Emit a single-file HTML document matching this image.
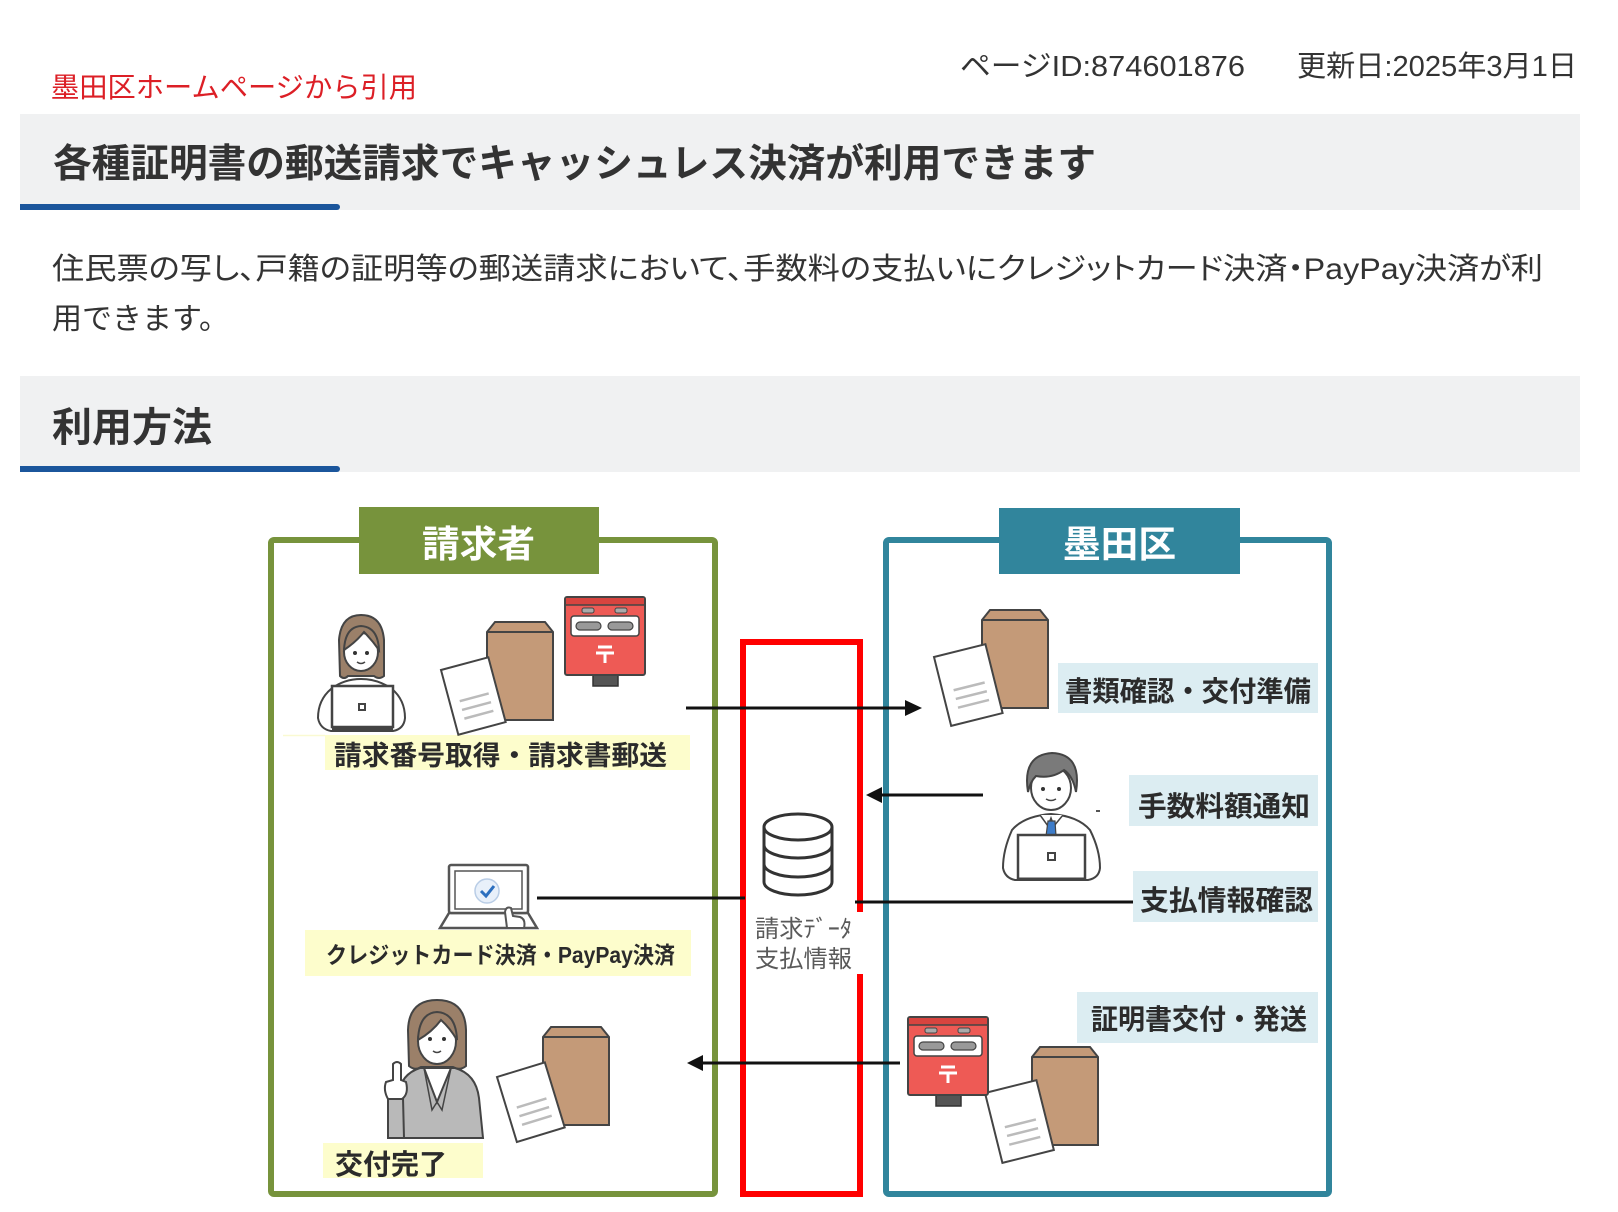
<!DOCTYPE html>
<html><head><meta charset="utf-8">
<style>
html,body{margin:0;padding:0;background:#fff;}
body{width:1618px;height:1212px;overflow:hidden;position:relative;}
svg{position:absolute;left:0;top:0;}
text{font-family:"Liberation Sans","Noto Sans CJK JP",sans-serif;}
.palt{font-feature-settings:"palt";}
</style></head>
<body>
<svg width="1618" height="1212" viewBox="0 0 1618 1212" xmlns="http://www.w3.org/2000/svg">
<!-- header texts -->
<text x="51" y="97" font-size="28" fill="#dc1f26" textLength="366" lengthAdjust="spacingAndGlyphs">墨田区ホームページから引用</text>
<text x="960" y="76" font-size="29" fill="#333" textLength="285" lengthAdjust="spacingAndGlyphs">ページID:874601876</text>
<text x="1297" y="76" font-size="29" fill="#333" textLength="280" lengthAdjust="spacingAndGlyphs">更新日:2025年3月1日</text>

<rect x="20" y="114" width="1560" height="96" fill="#f0f1f2"/>
<rect x="20" y="204" width="320" height="6" rx="3" fill="#1b569c"/>
<rect x="20" y="204" width="10" height="6" fill="#1b569c"/>
<text x="53" y="177" font-size="39" font-weight="bold" fill="#333" textLength="1043" lengthAdjust="spacingAndGlyphs">各種証明書の郵送請求でキャッシュレス決済が利用できます</text>

<text class="palt" x="52" y="279" font-size="30" fill="#333" textLength="1491" lengthAdjust="spacingAndGlyphs">住民票の写し、戸籍の証明等の郵送請求において、手数料の支払いにクレジットカード決済・PayPay決済が利</text>
<text x="52" y="329" font-size="30" fill="#333">用できます。</text>

<rect x="20" y="376" width="1560" height="96" fill="#f0f1f2"/>
<rect x="20" y="466" width="320" height="6" rx="3" fill="#1b569c"/>
<rect x="20" y="466" width="10" height="6" fill="#1b569c"/>
<text x="52" y="441" font-size="40" font-weight="bold" fill="#333" textLength="160" lengthAdjust="spacingAndGlyphs">利用方法</text>

<!-- frames -->
<rect x="271" y="540" width="444" height="654" rx="3" fill="none" stroke="#77933c" stroke-width="6"/>
<rect x="886" y="540" width="443" height="654" rx="3" fill="none" stroke="#31859c" stroke-width="6"/>
<rect x="743" y="642" width="117" height="552" fill="none" stroke="#ff0000" stroke-width="6"/>
<rect x="853" y="912" width="11" height="62" fill="#fff"/>

<rect x="359" y="507" width="240" height="67" fill="#77933c"/>
<text x="422" y="557" font-size="37" font-weight="bold" fill="#fff" textLength="113" lengthAdjust="spacingAndGlyphs">請求者</text>
<rect x="999" y="508" width="241" height="66" fill="#31859c"/>
<text x="1063" y="557" font-size="37" font-weight="bold" fill="#fff" textLength="113" lengthAdjust="spacingAndGlyphs">墨田区</text>

<!-- label backgrounds -->
<line x1="283" y1="735.5" x2="325" y2="735.5" stroke="#fafad2" stroke-width="1.5"/>
<rect x="325" y="735" width="365" height="35" fill="#fdfdcc"/>
<rect x="305" y="930" width="386" height="46" fill="#fdfdcc"/>
<rect x="323" y="1143" width="160" height="35" fill="#fdfdcc"/>
<rect x="1058" y="663" width="260" height="50" fill="#dcedf2"/>
<rect x="1129" y="775" width="189" height="51" fill="#dcedf2"/>
<rect x="1133" y="871" width="185" height="51" fill="#dcedf2"/>
<rect x="1077" y="992" width="241" height="51" fill="#dcedf2"/>

<!-- label texts -->
<g font-weight="bold" fill="#2b2b2b">
<text x="334" y="765" font-size="27" textLength="333" lengthAdjust="spacingAndGlyphs">請求番号取得・請求書郵送</text>
<text x="326" y="963" font-size="23" textLength="349" lengthAdjust="spacingAndGlyphs">クレジットカード決済・PayPay決済</text>
<text x="335" y="1174" font-size="28" textLength="112" lengthAdjust="spacingAndGlyphs">交付完了</text>
<text x="1065" y="701" font-size="28" textLength="246" lengthAdjust="spacingAndGlyphs">書類確認・交付準備</text>
<text x="1138" y="816" font-size="28" textLength="172" lengthAdjust="spacingAndGlyphs">手数料額通知</text>
<text x="1140" y="910" font-size="28" textLength="173" lengthAdjust="spacingAndGlyphs">支払情報確認</text>
<text x="1091" y="1029" font-size="28" textLength="216" lengthAdjust="spacingAndGlyphs">証明書交付・発送</text>
</g>
<text x="755" y="937" font-size="24" fill="#5a5a5a" textLength="97" lengthAdjust="spacingAndGlyphs">請求ﾃﾞｰﾀ</text>
<text x="755" y="967" font-size="24" fill="#5a5a5a" textLength="97" lengthAdjust="spacingAndGlyphs">支払情報</text>

<!-- database -->
<g fill="#fff" stroke="#333" stroke-width="3">
<path d="M764,827 L764,882 A34,13 0 0 0 832,882 L832,827"/>
<ellipse cx="798" cy="827" rx="34" ry="13"/>
<path d="M764,845 A34,13 0 0 0 832,845" fill="none"/>
<path d="M764,864 A34,13 0 0 0 832,864" fill="none"/>
</g>

<!-- envelopes + papers -->
<g stroke="#444" stroke-width="2">
<g transform="translate(487,622)"><path d="M0,10 L8,0 L58,0 L66,10 L66,98 L0,98 Z" fill="#c49a78"/><path d="M0,10 L66,10" fill="none"/></g>
<g transform="translate(441,670) rotate(-15)"><rect x="0" y="0" width="49" height="67" fill="#fff"/><g stroke="#bbb" stroke-width="2.5"><line x1="10" y1="35" x2="40" y2="35"/><line x1="10" y1="44" x2="40" y2="44"/><line x1="10" y1="53" x2="40" y2="53"/></g></g>

<g transform="translate(982,610)"><path d="M0,10 L8,0 L58,0 L66,10 L66,98 L0,98 Z" fill="#c49a78"/><path d="M0,10 L66,10" fill="none"/></g>
<g transform="translate(934,657) rotate(-14)"><rect x="0" y="0" width="53" height="71" fill="#fff"/><g stroke="#bbb" stroke-width="2.5"><line x1="11" y1="37" x2="43" y2="37"/><line x1="11" y1="46" x2="43" y2="46"/><line x1="11" y1="55" x2="43" y2="55"/></g></g>

<g transform="translate(543,1027)"><path d="M0,10 L8,0 L58,0 L66,10 L66,98 L0,98 Z" fill="#c49a78"/><path d="M0,10 L66,10" fill="none"/></g>
<g transform="translate(497,1077) rotate(-17)"><rect x="0" y="0" width="50" height="68" fill="#fff"/><g stroke="#bbb" stroke-width="2.5"><line x1="10" y1="35" x2="41" y2="35"/><line x1="10" y1="44" x2="41" y2="44"/><line x1="10" y1="53" x2="41" y2="53"/></g></g>

<g transform="translate(1032,1047)"><path d="M0,10 L8,0 L58,0 L66,10 L66,98 L0,98 Z" fill="#c49a78"/><path d="M0,10 L66,10" fill="none"/></g>
<g transform="translate(985,1093) rotate(-14)"><rect x="0" y="0" width="53" height="72" fill="#fff"/><g stroke="#bbb" stroke-width="2.5"><line x1="11" y1="38" x2="43" y2="38"/><line x1="11" y1="47" x2="43" y2="47"/><line x1="11" y1="56" x2="43" y2="56"/></g></g>
</g>

<!-- post boxes -->
<defs>
<g id="pb">
<rect x="28" y="77" width="25" height="12" fill="#555" stroke="#333" stroke-width="1.5"/>
<rect x="0" y="0" width="80" height="78" rx="2" fill="#ee5a55" stroke="#444" stroke-width="2"/>
<rect x="1" y="1" width="78" height="7" fill="#d8443f"/>
<line x1="0" y1="8" x2="80" y2="8" stroke="#444" stroke-width="1.5"/>
<rect x="17" y="11" width="12" height="5" rx="2" fill="#aaa" stroke="#444" stroke-width="1"/>
<rect x="50" y="11" width="12" height="5" rx="2" fill="#aaa" stroke="#444" stroke-width="1"/>
<rect x="6" y="19" width="68" height="20" rx="3" fill="#fff" stroke="#444" stroke-width="1.5"/>
<rect x="11" y="25" width="25" height="8" rx="4" fill="#999" stroke="#444" stroke-width="1.2"/>
<rect x="43" y="25" width="25" height="8" rx="4" fill="#999" stroke="#444" stroke-width="1.2"/>
<g stroke="#fff" stroke-width="3"><line x1="33" y1="50" x2="47" y2="50"/><line x1="31" y1="56" x2="49" y2="56"/><line x1="40" y1="56" x2="40" y2="66"/></g>
</g>
</defs>
<use href="#pb" x="565" y="597"/>
<use href="#pb" x="908" y="1017"/>

<!-- woman top -->
<g stroke="#444" stroke-width="2">
<path d="M340,676 L339,640 Q341,615 361,615 Q382,615 384,640 L384,676 Q379,680 374,676 L348,676 Q344,680 340,676 Z" fill="#9b8069"/>
<path d="M331,689 Q318,700 318,718 Q320,729 331,731 L393,731 Q404,729 405,718 Q405,700 392,689 Q378,679 361,679 Q344,679 331,689 Z" fill="#fff"/>
<ellipse cx="361" cy="652" rx="17" ry="19" fill="#fff"/>
<path d="M344,650 Q345,627 361,626 Q378,627 379,650 Q372,640 364,632 Q356,642 344,650 Z" fill="#9b8069"/>
<rect x="332" y="686" width="61" height="41" fill="#fff" stroke-width="2.5"/>
<rect x="359" y="704" width="6" height="6" fill="#fff"/>
<line x1="332" y1="729" x2="393" y2="729" stroke-width="3"/>
</g>
<g fill="#333"><circle cx="355" cy="653" r="2"/><circle cx="367" cy="653" r="2"/></g>
<path d="M357,662 Q361,665 365,662" stroke="#444" stroke-width="1.5" fill="none"/>

<!-- laptop with check -->
<g stroke="#555" stroke-width="2.5" fill="#fff">
<path d="M440,928 L449,913 L528,913 L537,928 Z"/>
<rect x="449" y="865" width="79" height="48" rx="2"/>
<rect x="455" y="871" width="67" height="38" stroke-width="1.5"/>
</g>
<circle cx="487" cy="891" r="12" fill="#e8f0fa" stroke="#b9cde6" stroke-width="1.5"/>
<path d="M481,891 L486,896 L494,886" stroke="#2c6fbf" stroke-width="3" fill="none"/>
<path d="M507,928 L505,912 Q506,906 511,908 L513,916 L520,917 Q526,919 524,928 Z" fill="#fff" stroke="#555" stroke-width="2"/>

<!-- man -->
<g stroke="#444" stroke-width="2">
<path d="M1012,830 Q1003,850 1003,868 Q1005,878 1015,880 L1088,880 Q1099,878 1100,868 Q1100,850 1090,830 Q1078,816 1051,814 Q1024,816 1012,830 Z" fill="#fff"/>
<path d="M1040,815 L1048,826 L1051,818 L1054,826 L1063,815" fill="#fff" stroke-width="1.5"/>
<polygon points="1048,821 1055,821 1056,836 1051,841 1046,836" fill="#3d7cc9" stroke-width="1.2"/>
<ellipse cx="1051" cy="788" rx="20" ry="22" fill="#fff"/>
<path d="M1028,792 Q1022,755 1052,753 Q1082,754 1076,792 Q1073,776 1064,770 Q1052,779 1036,776 Q1030,782 1028,792 Z" fill="#7a7a7a"/>
<rect x="1018" y="835" width="67" height="44" fill="#fff" stroke-width="2.5"/>
<rect x="1048" y="853" width="7" height="7" fill="#fff"/>
<line x1="1018" y1="879" x2="1085" y2="879" stroke-width="3"/>
</g>
<g fill="#333"><circle cx="1043" cy="789" r="2"/><circle cx="1059" cy="789" r="2"/></g>
<path d="M1046,799 Q1051,802 1056,799" stroke="#444" stroke-width="1.5" fill="none"/>
<line x1="1096" y1="811" x2="1100" y2="811" stroke="#555" stroke-width="2"/>

<!-- woman bottom -->
<g stroke="#444" stroke-width="2">
<path d="M409,1066 L408,1030 Q409,1000 437,1000 Q465,1000 466,1030 L466,1066 Q460,1071 453,1067 L421,1067 Q415,1071 409,1066 Z" fill="#9b8069"/>
<path d="M399,1138 L398,1095 Q401,1074 420,1068 L455,1068 Q476,1074 479,1098 L483,1138 Z" fill="#b9b9b9"/>
<polygon points="424,1068 451,1068 437,1102" fill="#fff"/>
<path d="M424,1068 L432,1110 L437,1102 L442,1110 L451,1068" fill="none" stroke-width="1.5"/>
<ellipse cx="437" cy="1041" rx="19" ry="23" fill="#fff"/>
<path d="M418,1040 Q419,1013 437,1012 Q456,1013 457,1040 Q450,1028 441,1020 Q432,1032 418,1040 Z" fill="#9b8069"/>
<path d="M388,1138 L388,1098 L403,1098 L404,1138 Z" fill="#b9b9b9"/>
<path d="M393,1080 L393,1064 Q397,1060 401,1064 L401,1080 L406,1082 Q409,1094 402,1099 L388,1099 Q383,1090 386,1082 Z" fill="#fff"/>
</g>
<g fill="#333"><circle cx="430" cy="1039" r="2"/><circle cx="444" cy="1039" r="2"/></g>
<path d="M433,1051 Q437,1054 441,1051" stroke="#444" stroke-width="1.5" fill="none"/>

<!-- connectors -->
<g stroke="#111" stroke-width="3">
<line x1="686" y1="708" x2="907" y2="708"/>
<line x1="983" y1="795" x2="880" y2="795"/>
<line x1="900" y1="1063" x2="701" y2="1063"/>
<line x1="537" y1="898" x2="745" y2="898"/>
<line x1="855" y1="902" x2="1133" y2="902"/>
</g>
<g fill="#111">
<polygon points="922,708 905,700 905,716"/>
<polygon points="866,795 882,787 882,803"/>
<polygon points="687,1063 703,1055 703,1071"/>
</g>
</svg>
</body></html>
